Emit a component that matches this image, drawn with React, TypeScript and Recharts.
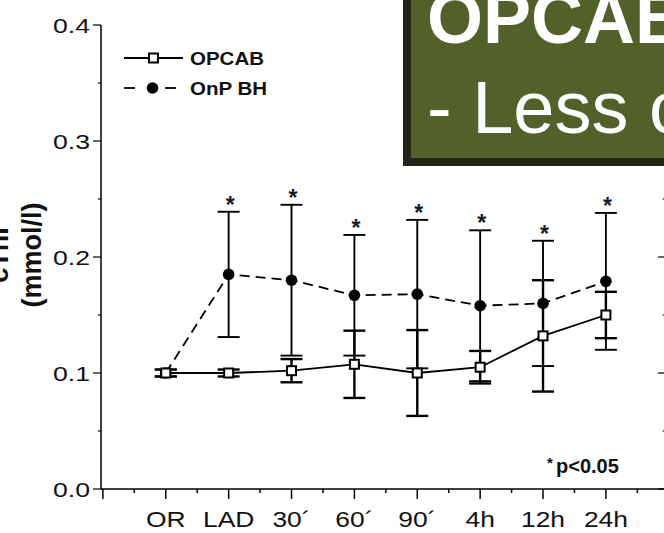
import React from 'react'
import { ComposedChart, Line, XAxis, YAxis, ErrorBar } from 'recharts'

// time points (category labels)
const times = ['OR', 'LAD', '30´', '60´', '90´', '4h', '12h', '24h']

// cTnI (mmol/l), mean and error per group
const opcab = [0.1, 0.1, 0.102, 0.1075, 0.1, 0.105, 0.132, 0.15]
const opcabErr = [0.003, 0.003, 0.01, 0.029, 0.037, 0.014, 0.048, 0.02]
const onpbh = [0.1, 0.185, 0.18, 0.167, 0.168, 0.158, 0.16, 0.179]
const onpbhErr = [0.003, 0.054, 0.065, 0.052, 0.064, 0.065, 0.054, 0.059]
const significant = [false, true, true, true, true, true, true, true]

const yTicks = [0, 0.05, 0.1, 0.15, 0.2, 0.25, 0.3, 0.35, 0.4]
const xTicks = [-1, -0.5, 0, 0.5, 1, 1.5, 2, 2.5, 3, 3.5, 4, 4.5, 5, 5.5, 6, 6.5, 7, 7.5]
const X_DOMAIN = [-1.03, 7.94]

const FONT = '"Liberation Sans", Arial, Helvetica, sans-serif'
const INK = '#000'

const isMajorY = (v: number) => Math.abs(v * 10 - Math.round(v * 10)) < 1e-6

function BottomTick({ x, y, payload }: any) {
  const v = payload.value as number
  const major = Number.isInteger(v)
  const label = major && v >= 0 ? times[v] : null
  return (
    <g>
      <line x1={x} x2={x} y1={y} y2={y + (major ? 10 : 4)} stroke={INK} strokeWidth={1.5} />
      {label && (
        <text
          transform={`translate(${x},${y + 38}) scale(1.2,1)`}
          textAnchor="middle"
          fontSize={22}
          fontFamily={FONT}
          fill="#111"
        >
          {label}
        </text>
      )}
    </g>
  )
}

function TopTick({ x, y }: any) {
  return <line x1={x} x2={x} y1={y} y2={y + 7} stroke={INK} strokeWidth={1.2} />
}

function LeftTick({ x, y, payload }: any) {
  const v = payload.value as number
  const major = isMajorY(v)
  return (
    <g>
      <line x1={x - (major ? 8 : 3)} x2={x} y1={y} y2={y} stroke={INK} strokeWidth={1.2} />
      {major && (
        <text
          transform={`translate(${x - 11},${y + 7.5}) scale(1.3,1)`}
          textAnchor="end"
          fontSize={20.5}
          fontFamily={FONT}
          fill="#111"
        >
          {v.toFixed(1)}
        </text>
      )}
    </g>
  )
}

function RightTick({ x, y, payload }: any) {
  const major = isMajorY(payload.value)
  return <line x1={x - (major ? 7 : 2.5)} x2={x} y1={y} y2={y} stroke={INK} strokeWidth={1.2} />
}

function SquareDot({ cx, cy }: any) {
  if (cx == null || cy == null) return <g />
  return <rect x={cx - 4.5} y={cy - 4.5} width={9} height={9} fill="#fff" stroke={INK} strokeWidth={2} />
}

function CircleDot({ cx, cy }: any) {
  if (cx == null || cy == null) return <g />
  return <circle cx={cx} cy={cy} r={5.8} fill={INK} />
}

function StarDot({ cx, cy }: any) {
  if (cx == null || cy == null) return <g />
  return (
    <text x={cx + 1.5} y={cy + 1} textAnchor="middle" fontSize={23} fontWeight="bold" fontFamily={FONT} fill="#141a2a">
      *
    </text>
  )
}

export default function App() {
  const data = times.map((t, i) => ({
    pos: i,
    name: t,
    opcab: opcab[i],
    opcabErr: opcabErr[i],
    onp: onpbh[i],
    onpErr: onpbhErr[i],
    star: significant[i] ? onpbh[i] + onpbhErr[i] : null,
  }))

  return (
    <div
      style={{
        position: 'absolute',
        left: 0,
        top: 0,
        width: 664,
        height: 533,
        overflow: 'hidden',
        background: '#fff',
        fontFamily: FONT,
      }}
    >
      <ComposedChart width={680} height={533} data={data} margin={{ top: 25, right: 0, bottom: 0, left: 0 }}>
        <XAxis
          xAxisId="b"
          dataKey="pos"
          type="number"
          domain={X_DOMAIN}
          ticks={xTicks}
          interval={0}
          height={44}
          tickSize={0}
          tickMargin={0}
          tickLine={false}
          axisLine={{ stroke: INK, strokeWidth: 1.5 }}
          tick={BottomTick}
          allowDataOverflow
        />
        <XAxis
          xAxisId="t"
          orientation="top"
          type="number"
          domain={X_DOMAIN}
          ticks={xTicks}
          interval={0}
          height={0}
          tickSize={0}
          tickMargin={0}
          tickLine={false}
          axisLine={{ stroke: INK, strokeWidth: 1.5 }}
          tick={TopTick}
          allowDataOverflow
        />
        <YAxis
          yAxisId="l"
          type="number"
          domain={[0, 0.4]}
          ticks={yTicks}
          interval={0}
          width={101}
          tickSize={0}
          tickMargin={0}
          tickLine={false}
          axisLine={{ stroke: INK, strokeWidth: 1.5 }}
          tick={LeftTick}
          allowDataOverflow
        />
        <YAxis
          yAxisId="r"
          orientation="right"
          type="number"
          domain={[0, 0.4]}
          ticks={yTicks}
          interval={0}
          width={15}
          tickSize={0}
          tickMargin={0}
          tickLine={false}
          axisLine={{ stroke: INK, strokeWidth: 1.5 }}
          tick={RightTick}
          allowDataOverflow
        />

        <Line
          xAxisId="b"
          yAxisId="l"
          type="linear"
          dataKey="onp"
          stroke={INK}
          strokeWidth={1.8}
          strokeDasharray="10 6"
          dot={CircleDot}
          activeDot={false}
          isAnimationActive={false}
        >
          <ErrorBar dataKey="onpErr" width={11} stroke={INK} strokeWidth={1.9} direction="y" />
        </Line>

        <Line
          xAxisId="b"
          yAxisId="l"
          type="linear"
          dataKey="opcab"
          stroke={INK}
          strokeWidth={1.8}
          dot={SquareDot}
          activeDot={false}
          isAnimationActive={false}
        >
          <ErrorBar dataKey="opcabErr" width={11} stroke={INK} strokeWidth={2.4} direction="y" />
        </Line>

        <Line
          xAxisId="b"
          yAxisId="l"
          dataKey="star"
          stroke="none"
          dot={StarDot}
          activeDot={false}
          legendType="none"
          isAnimationActive={false}
        />
      </ComposedChart>

      <svg
        width={664}
        height={533}
        style={{ position: 'absolute', left: 0, top: 0, pointerEvents: 'none' }}
        fontFamily={FONT}
      >
        {/* legend */}
        <line x1={124} x2={183} y1={58} y2={58} stroke={INK} strokeWidth={1.8} />
        <rect x={149} y={53.5} width={9} height={9} fill="#fff" stroke={INK} strokeWidth={2} />
        <text x={190} y={65} fontSize={19} fontWeight="bold" fill="#111" transform="translate(190,0) scale(1.08,1) translate(-190,0)">
          OPCAB
        </text>
        <line x1={124} x2={135} y1={88} y2={88} stroke={INK} strokeWidth={1.8} />
        <circle cx={152.5} cy={88} r={5.8} fill={INK} />
        <line x1={165} x2={176} y1={88} y2={88} stroke={INK} strokeWidth={1.8} />
        <text x={190} y={95} fontSize={19} fontWeight="bold" fill="#111" transform="translate(190,0) scale(1.08,1) translate(-190,0)">
          OnP BH
        </text>

        {/* y-axis title */}
        <text transform="translate(8,255) rotate(-90)" textAnchor="middle" fontSize={27} fontWeight="bold" fill="#111">
          cTnI
        </text>
        <text transform="translate(41,255) rotate(-90)" textAnchor="middle" fontSize={27} fontWeight="bold" fill="#111">
          (mmol/l)
        </text>

        {/* significance note */}
        <text x={547} y={468} fontSize={15} fontWeight="bold" fill="#111">
          *
        </text>
        <text x={556} y={473} fontSize={20} fontWeight="bold" fill="#111">
          p&lt;0.05
        </text>

        {/* slide box */}
        <rect x={403} y={-10} width={300} height={176} fill="#24231a" />
        <rect x={411} y={-10} width={300} height={168} fill="#526129" />
        <text x={427} y={43} fontSize={72} fontWeight="bold" fill="#fff">
          OPCAB
        </text>
        <text x={427} y={133} fontSize={74} fill="#fff">
          - Less c
        </text>
      </svg>
    </div>
  )
}
